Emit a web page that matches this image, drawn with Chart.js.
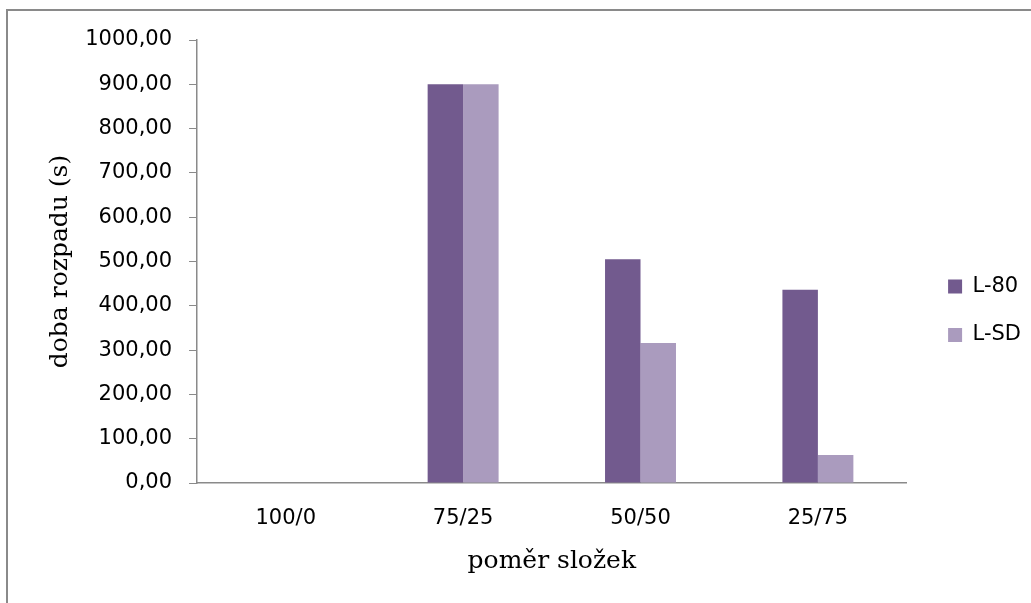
<!DOCTYPE html>
<html>
<head>
<meta charset="utf-8">
<script src="https://cdn.jsdelivr.net/npm/chart.js@4/dist/chart.umd.min.js"></script>
<style>
  html, body { margin: 0; padding: 0; background: #ffffff; overflow: hidden; }
  #wrap { position: relative; width: 1031px; height: 603px; }
</style>
</head>
<body>
<div id="wrap"><canvas id="c" width="1031" height="603"></canvas></div>
<script>
// Poměr složek vs. doba rozpadu
const categories = ['100/0', '75/25', '50/50', '25/75'];
const seriesNames = ['L-80', 'L-SD'];
const l80Values = [0, 900, 505, 436];
const lsdValues = [0, 900, 316, 63];
const yTickLabels = ['0,00', '100,00', '200,00', '300,00', '400,00', '500,00',
                     '600,00', '700,00', '800,00', '900,00', '1000,00'];
const xAxisTitle = 'poměr složek';
const yAxisTitle = 'doba rozpadu (s)';
const seriesColors = ['#725A8E', '#AA9BBE'];

const axisGray = '#8a8a8a';
const labelFont = { family: 'DejaVu Sans', size: 21 };
const titleFont = { family: 'DejaVu Serif', size: 25 };

// white page with the grey chart frame (left and top edges visible)
const framePlugin = {
  id: 'frame',
  beforeDraw(chart) {
    const ctx = chart.ctx;
    ctx.save();
    ctx.fillStyle = '#ffffff';
    ctx.fillRect(0, 0, chart.width, chart.height);
    ctx.strokeStyle = axisGray;
    ctx.lineWidth = 2;
    ctx.strokeRect(7, 10, chart.width + 40, chart.height + 40);
    ctx.restore();
  }
};

new Chart(document.getElementById('c'), {
  type: 'bar',
  data: {
    labels: categories,
    datasets: [
      { label: seriesNames[0], data: l80Values, backgroundColor: seriesColors[0],
        yAxisID: 'y', categoryPercentage: 0.4, barPercentage: 1.0 },
      { label: seriesNames[1], data: lsdValues, backgroundColor: seriesColors[1],
        yAxisID: 'y', categoryPercentage: 0.4, barPercentage: 1.0 }
    ]
  },
  options: {
    responsive: false,
    animation: false,
    devicePixelRatio: 1,
    layout: { padding: { left: 45.5, top: 40, right: 0, bottom: 21.5 } },
    plugins: {
      legend: {
        position: 'right',
        align: 'center',
        labels: { boxWidth: 14, boxHeight: 14, padding: 27.5, color: '#000000', font: labelFont }
      },
      tooltip: { enabled: false }
    },
    scales: {
      x: {
        grid: { display: false, drawTicks: false },
        border: { display: true, color: axisGray, width: 1.5 },
        ticks: { color: '#000000', padding: 23.4, font: labelFont },
        title: { display: true, text: xAxisTitle, color: '#000000', font: titleFont,
                 padding: { top: -8.4, bottom: 4.9 } }
      },
      y: {
        min: 0,
        max: 1000,
        ticks: { stepSize: 100, padding: 17, color: '#000000', font: labelFont,
                 callback: (value, index) => yTickLabels[index] },
        grid: { drawOnChartArea: false, drawTicks: true, tickLength: 8, color: axisGray, lineWidth: 1 },
        border: { display: true, color: axisGray, width: 1.5 },
        title: { display: true, text: yAxisTitle, color: '#000000', font: titleFont,
                 padding: { top: 0, bottom: -7.3 } }
      },
      // empty spacer between the plot and the legend
      gap: {
        type: 'linear',
        position: 'right',
        display: true,
        grid: { display: false },
        border: { display: false },
        ticks: { display: false },
        afterFit(scale) { scale.width = 14; }
      }
    }
  },
  plugins: [framePlugin]
});
</script>
</body>
</html>
